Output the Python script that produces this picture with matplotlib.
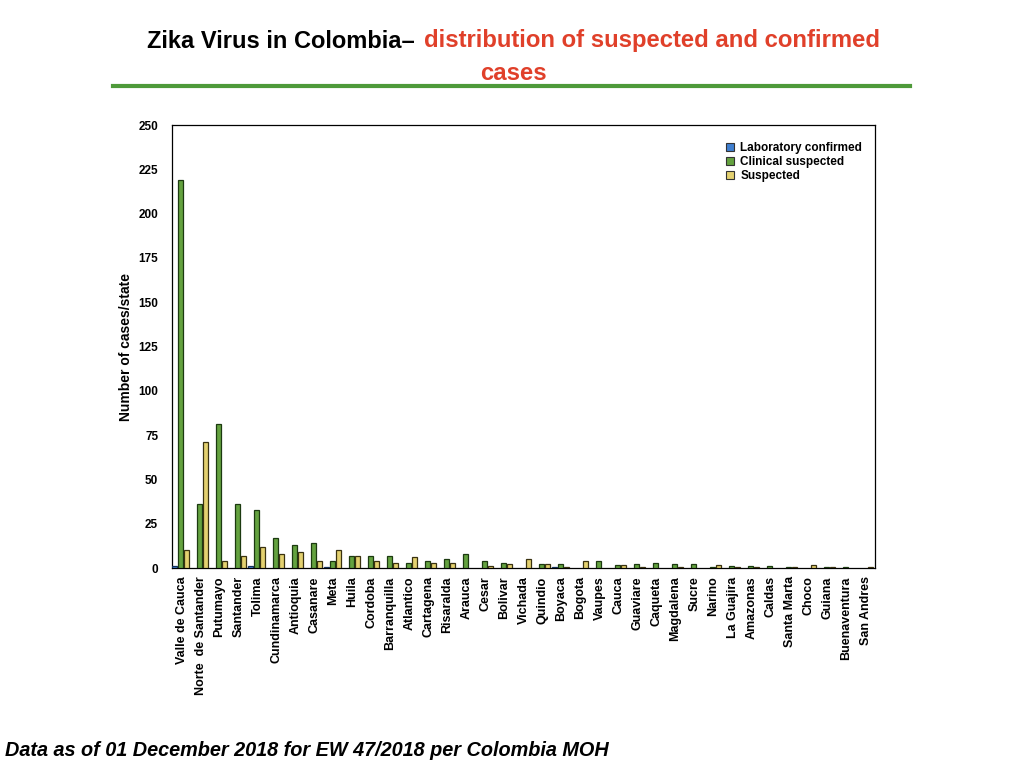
import numpy as np
import matplotlib.pyplot as plt
from matplotlib.lines import Line2D
from matplotlib.patches import Patch

states = ["Valle de Cauca", "Norte  de Santander", "Putumayo", "Santander", "Tolima",
          "Cundinamarca", "Antioquia", "Casanare", "Meta", "Huila", "Cordoba",
          "Barranquilla", "Atlantico", "Cartagena", "Risaralda", "Arauca", "Cesar",
          "Bolivar", "Vichada", "Quindio", "Boyaca", "Bogota", "Vaupes", "Cauca",
          "Guaviare", "Caqueta", "Magdalena", "Sucre", "Narino", "La Guajira",
          "Amazonas", "Caldas", "Santa Marta", "Choco", "Guiana", "Buenaventura",
          "San Andres"]

lab_confirmed = [1, 0, 0, 0, 1, 0, 0, 0, 0.3, 0, 0, 0, 0, 0, 0, 0, 0, 0, 0, 0,
                 0.3, 0, 0, 0, 0, 0, 0, 0, 0, 0, 0, 0, 0, 0, 0, 0, 0]
clinical_suspected = [219, 36, 81, 36, 33, 17, 13, 14, 4, 7, 7, 7, 3, 4, 5, 8, 4,
                      3, 0, 2.5, 2.5, 0, 4, 1.5, 2.5, 3, 2.5, 2.5, 0.3, 1.3, 1.3,
                      1.3, 0.3, 0, 0.3, 0.3, 0]
suspected = [10, 71, 4, 7, 12, 8, 9, 4, 10, 7, 4, 3, 6, 3, 3, 0, 1, 2.5, 5, 2.5,
             0.3, 4, 0, 1.5, 0.3, 0, 0.3, 0, 1.5, 0.3, 0.3, 0, 0.3, 1.5, 0.3, 0, 0.3]

series = [("Laboratory confirmed", lab_confirmed, "#3f7fd0", "#14305a"),
          ("Clinical suspected", clinical_suspected, "#64a23f", "#1c3a10"),
          ("Suspected", suspected, "#e4d170", "#3a3210")]

fig = plt.figure(figsize=(10.24, 7.68), dpi=100)
ax = fig.add_axes([0.168, 0.2604, 0.6865, 0.5768])

x = np.arange(len(states))
w = 0.26
offsets = [-0.316, 0, 0.316]
for (name, vals, col, edge), off in zip(series, offsets):
    vals = np.array(vals, dtype=float)
    ecols = [edge if v > 0 else "none" for v in vals]
    ax.bar(x + off, vals, w, color=col, edgecolor=ecols, linewidth=0.9, zorder=3)

ax.set_xlim(-0.45, len(states) - 0.45)
ax.set_ylim(0, 250)
ax.set_yticks(range(0, 251, 25))
ax.set_xticks(x + 0.05)
ax.set_xticklabels(states, rotation=90, fontsize=9, fontweight="bold",
                   family=["Liberation Sans", "DejaVu Sans"])
for lbl in ax.get_yticklabels():
    lbl.set_fontweight("bold")
    lbl.set_fontsize(8.5)
    lbl.set_family(["Liberation Sans", "DejaVu Sans"])
ax.tick_params(axis="both", length=0, pad=10)
ax.tick_params(axis="x", pad=6)
for s in ax.spines.values():
    s.set_linewidth(0.9)
ax.set_ylabel("Number of cases/state", fontsize=10, fontweight="bold",
              family=["Liberation Sans", "DejaVu Sans"], labelpad=4)

handles = [Patch(facecolor=c, edgecolor="#333333", linewidth=0.8) for _, _, c, _ in series]
ax.legend(handles, [s[0] for s in series], loc="upper right", frameon=False,
          bbox_to_anchor=(0.997, 0.985), handlelength=0.7, handleheight=0.7,
          handletextpad=0.5, labelspacing=0.15,
          prop={"weight": "bold", "size": 8.5, "family": ["Liberation Sans", "DejaVu Sans"]})

title_font = ["Liberation Sans Narrow", "Liberation Sans", "DejaVu Sans"]
fig.text(415 / 1024, 1 - 41 / 768, "Zika Virus in Colombia\u2013", ha="right", va="center",
         fontsize=17, fontweight="bold", family=title_font, color="black")
fig.text(424 / 1024, 1 - 41 / 768, "distribution of suspected and confirmed", ha="left",
         va="center", fontsize=17.2, fontweight="bold", family=title_font, color="#e0402a")
fig.text(513 / 1024, 1 - 73 / 768, "cases", ha="center", va="center",
         fontsize=17.2, fontweight="bold", family=title_font, color="#e0402a")
fig.add_artist(Line2D([113 / 1024, 910 / 1024], [1 - 86 / 768, 1 - 86 / 768],
                      transform=fig.transFigure, color="#4e9a3a", linewidth=3))

fig.text(5 / 1024, 1 - 750 / 768, "Data as of 01 December 2018 for EW 47/2018 per Colombia MOH",
         ha="left", va="center", fontsize=14.3, fontweight="bold", style="italic",
         family=["Liberation Sans", "DejaVu Sans"])

fig.savefig("out.png", dpi=100)
